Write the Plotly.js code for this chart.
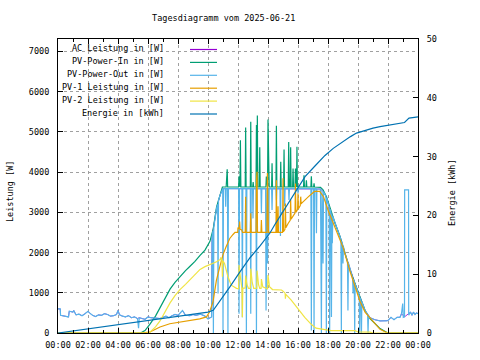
<!DOCTYPE html>
<html><head><meta charset="utf-8">
<script src="https://cdn.plot.ly/plotly-3.0.1.min.js"></script>
<style>html,body{margin:0;padding:0;background:#fff}#c{width:480px;height:360px}</style>
</head><body><div id="c"></div>
<script>
const titleText = "Tagesdiagramm vom 2025-06-21";
const seriesNames = ["AC Leistung in [W]","PV-Power-In in [W]","PV-Power-Out in [W]","PV-1 Leistung in [W]","PV-2 Leistung in [W]","Energie in [kWh]"];
const seriesColors = ["#9400d3","#009e73","#56b4e9","#e69f00","#f0e442","#0072b2"];
const xTickVals = [0,2,4,6,8,10,12,14,16,18,20,22,24];
const xTickText = ["00:00","02:00","04:00","06:00","08:00","10:00","12:00","14:00","16:00","18:00","20:00","22:00","00:00"];

// [hour, W]
const pvIn = [[0,0],[5.5,0],[5.8,60],[6.0,150],[6.13,220],[6.5,420],[6.8,630],[7.1,850],[7.47,1090],[7.8,1260],[8.13,1410],[8.5,1550],[8.8,1660],[9.13,1780],[9.47,1930],[9.8,2060],[10.13,2280],[10.35,2590],[10.57,3130],[10.8,3460],[10.96,3630],
[11.21,3630],[11.24,3950],[11.26,3630],[11.28,4070],[11.31,3630],
[12.04,3630],[12.07,3900],[12.1,3630],[12.13,3630],[12.16,4790],[12.19,3630],
[12.48,3630],[12.51,5110],[12.54,3630],
[12.82,3630],[12.85,5250],[12.88,3630],
[12.98,3630],[13.01,3750],[13.04,3630],
[13.2,3630],[13.23,5170],[13.26,3630],[13.29,5410],[13.32,3630],
[13.42,3630],[13.45,4620],[13.48,3630],
[13.86,3630],[13.89,3890],[13.92,3630],
[13.97,3630],[14.0,5310],[14.03,3630],[14.05,3870],[14.08,3630],
[14.24,3630],[14.27,4220],[14.3,3630],
[14.53,3630],[14.56,5150],[14.59,3630],
[14.82,3630],[14.85,4260],[14.88,3630],
[15.04,3630],[15.07,4560],[15.1,3630],
[15.35,3630],[15.38,4750],[15.41,3630],
[15.48,3630],[15.51,4620],[15.54,3630],
[15.64,3630],[15.67,4090],[15.7,3630],
[15.8,3630],[15.83,4090],[15.86,3630],[15.9,3630],[15.93,4630],[15.96,3630],
[16.37,3630],[16.4,3920],[16.43,3630],
[16.53,3630],[16.56,3800],[16.59,3630],
[16.86,3630],[16.89,3900],[16.92,3630],
[17.04,3630],[17.07,3720],[17.1,3630],
[17.5,3620],[17.67,3560],[17.9,3390],[18.1,3140],[18.3,2930],[18.47,2730],[18.8,2400],[19.13,1980],[19.47,1570],[19.8,1230],[20.13,900],[20.47,560],[20.8,360],[21.13,230],[21.47,110],[21.9,20],[22.0,0],[24,0]];

const pvOut = [[0,600],[0.15,600],[0.17,440],[0.5,420],[0.7,400],[0.75,540],[1.0,520],[1.05,560],[1.2,450],[1.4,470],[1.6,430],[1.8,480],[2.0,540],[2.1,500],[2.3,440],[2.5,410],[2.7,450],[2.9,440],[3.1,480],[3.3,460],[3.5,420],[3.7,430],[3.9,460],[4.0,560],[4.1,450],[4.3,420],[4.5,400],[4.7,430],[4.9,380],[5.1,400],[5.3,360],[5.37,120],[5.42,380],[5.6,360],[5.8,340],[6.0,400],[6.2,380],[6.5,370],[6.8,360],[7.2,420],[7.4,380],[7.6,430],[7.8,460],[8.0,440],[8.2,520],[8.3,560],[8.5,440],[8.8,430],[9.0,460],[9.2,440],[9.5,470],[9.8,420],[10.0,350],[10.2,380],
[10.24,400],[10.27,2400],[10.33,2540],[10.36,0],[10.39,2640],[10.57,3100],[10.64,3200],[10.67,980],[10.7,3300],[10.8,3420],[10.96,3590],
[10.98,3590],[11.0,0],[11.03,3590],
[11.15,3590],[11.18,3140],[11.21,3590],
[11.3,3590],[11.33,0],[11.36,3590],
[12.04,3590],[12.07,480],[12.1,3590],
[12.26,3590],[12.29,390],[12.32,3590],
[12.53,3590],[12.56,0],[12.59,3590],
[12.82,3590],[12.85,480],[12.88,3590],
[12.97,3590],[13.0,2850],[13.03,3590],
[13.2,3590],[13.23,0],[13.26,3590],
[13.53,3590],[13.56,2980],[13.59,3590],
[13.84,3590],[13.87,560],[13.9,3590],
[13.94,3590],[13.97,1730],[14.0,3590],
[14.02,3590],[14.05,2480],[14.08,3590],
[14.24,3590],[14.27,3060],[14.3,3590],
[14.53,3590],[14.56,3300],[14.59,3590],
[14.8,3590],[14.83,2410],[14.86,3590],
[15.08,3590],[15.11,3150],[15.14,3590],
[15.37,3590],[15.4,3310],[15.43,3590],
[15.97,3590],[16.0,3470],[16.03,3590],
[16.86,3590],[16.89,60],[16.92,3590],
[17.04,3590],[17.07,0],[17.1,3590],
[17.2,3590],[17.23,2480],[17.26,3590],
[17.5,3580],[17.56,0],[17.6,3560],[17.67,1730],[17.7,3510],[17.86,3400],[17.89,0],[17.92,3360],
[18.08,3130],[18.11,0],[18.14,3080],[18.2,3000],[18.23,400],[18.26,2950],[18.29,2230],[18.32,2900],
[18.47,2730],[18.8,2400],[18.86,2330],[18.89,0],[18.92,2280],[18.97,2200],[19.0,1730],[19.03,2150],[19.13,1980],[19.3,1780],[19.33,560],[19.36,1740],[19.47,1570],[19.64,1380],[19.67,980],[19.7,1340],[19.75,1280],[19.78,0],[19.81,1220],[20.08,930],[20.11,0],[20.14,880],[20.2,820],[20.23,0],[20.26,780],[20.47,560],[20.64,470],[20.67,0],[20.7,440],[20.8,380],[21.13,330],[21.47,300],[21.9,300],
[22.0,310],[22.2,390],[22.4,330],[22.6,390],[22.8,390],[22.9,480],[22.98,730],[23.02,390],[23.1,400],[23.11,3560],[23.37,3560],[23.38,440],[23.5,520],[23.6,440],[23.7,520],[23.8,460],[23.9,500],[24,480]];

// AC output: lies under the PV-Power-Out / PV-Power-In lines in the picture
const acPower = [[0,600],[0.15,600],[0.17,440],[0.5,420],[0.7,400],[0.75,540],[1.0,520],[1.05,560],[1.2,450],[1.4,470],[1.6,430],[1.8,480],[2.0,540],[2.1,500],[2.3,440],[2.5,410],[2.7,450],[2.9,440],[3.1,480],[3.3,460],[3.5,420],[3.7,430],[3.9,460],[4.0,560],[4.1,450],[4.3,420],[4.5,400],[4.7,430],[4.9,380],[5.1,400],[5.3,360],[5.42,380],[5.6,360],[5.8,340],[6.0,400],[6.2,380],[6.5,370],[6.8,360],[7.2,420],[7.4,380],[7.6,430],[7.8,460],[8.0,440],[8.2,520],[8.3,560],[8.5,440],[8.8,430],[9.0,460],[9.2,440],[9.5,470],[9.8,420],[10.0,350],[10.2,380],[10.24,400],[10.27,2400],[10.33,2540],[10.57,3100],[10.8,3420],[10.96,3590],[17.5,3580],[17.7,3510],[17.86,3400],[18.08,3130],[18.47,2730],[18.8,2400],[19.13,1980],[19.47,1570],[19.8,1230],[20.13,900],[20.47,560],[20.8,380],[21.13,330],[21.47,300],[21.9,300],[22.0,310],[22.2,390],[22.4,330],[22.6,390],[22.8,390],[22.9,480],[23.1,400],[23.5,520],[23.6,440],[23.7,520],[23.8,460],[23.9,500],[24,480]];

const pv1 = [[0,0],[5.5,0],[6.1,20],[6.5,90],[6.8,150],[7.45,230],[8.1,270],[8.8,310],[9.45,350],[9.9,400],[10.1,520],[10.33,770],[10.56,1310],[10.78,1640],[11.0,1950],[11.2,2140],[11.45,2350],[11.67,2450],[11.8,2500],
[11.98,2500],[12.0,2620],[12.08,2600],[12.11,2770],[12.14,2580],[12.25,2560],[12.3,2500],
[12.48,2500],[12.51,3390],[12.54,2500],
[12.82,2500],[12.85,2980],[12.88,2500],
[13.2,2500],[13.23,3800],[13.25,2500],[13.27,4010],[13.3,2500],
[13.53,2500],[13.56,2810],[13.59,2500],
[13.93,2500],[13.96,3980],[13.98,2500],[14.0,3060],[14.03,2500],
[14.53,2500],[14.56,3800],[14.59,2500],[14.64,2500],[14.67,3150],[14.7,2500],
[14.97,2500],[15.0,3850],[15.03,2520],
[15.13,2580],[15.16,3220],[15.19,2620],
[15.35,2730],[15.48,2800],[15.51,3310],[15.54,2830],
[15.8,2980],[15.83,3720],[15.86,3000],[15.97,3070],[16.0,3470],[16.03,3090],
[16.15,3170],[16.18,3390],[16.21,3210],
[16.25,3230],[16.7,3390],[17.1,3520],[17.45,3520],[17.7,3390],[18.0,3060],[18.35,2730],[18.8,2320],[19.02,2110],[19.47,1530],[19.8,1180],[20.13,790],[20.47,520],[20.8,380],[21.13,230],[21.47,90],[21.8,30],[22.0,0],[24,0]];

const pv2 = [[0,0],[5.9,0],[6.13,20],[6.5,150],[6.8,300],[7.1,520],[7.47,750],[7.8,930],[8.13,1080],[8.5,1210],[8.8,1330],[9.13,1450],[9.47,1580],[9.8,1650],[10.13,1700],[10.57,1770],[10.82,1830],[10.85,1880],[10.88,1820],[10.93,1830],[10.96,1400],[10.99,1800],[11.1,1730],[11.33,1400],[11.55,1190],[11.9,1110],
[12.04,1100],[12.07,1690],[12.12,1500],[12.2,1200],[12.26,1110],[12.29,390],[12.32,1110],
[12.48,1120],[12.51,1430],[12.6,1200],[12.7,1110],
[12.82,1110],[12.85,1600],[12.95,1250],[13.05,1110],
[13.25,1110],[13.27,1550],[13.37,1200],[13.45,1110],
[13.54,1110],[13.56,1340],[13.65,1150],
[13.97,1100],[14.0,1440],[14.1,1150],[14.3,1080],[14.6,1080],[14.9,1070],[15.0,1040],[15.1,990],[15.14,990],[15.16,850],[15.19,960],
[15.55,820],[16.0,600],[16.45,390],[16.9,210],[17.2,120],[17.7,90],[18.2,60],[19.8,60],[20.0,25],[20.8,20],[21.0,0],[24,0]];

// [hour, kWh]
const energy = [[0,0],[1,0.35],[2,0.7],[3,1.05],[4,1.4],[5,1.75],[6,2.1],[7,2.45],[8,2.85],[9,3.2],[10,3.55],[10.35,3.85],[10.8,5.4],[11.47,7.9],[12.13,10.4],[12.8,12.8],[13.47,14.8],[14.13,17.0],[14.47,18.5],[15.13,21.2],[15.8,24.0],[16.47,26.6],[17.13,28.4],[17.8,30.2],[18.35,31.4],[19.0,32.6],[19.5,33.4],[19.9,34.0],[20.5,34.5],[21.0,34.85],[21.47,35.1],[22.0,35.3],[22.8,35.65],[23.1,35.8],[23.4,36.55],[24,36.75]];

const FONT = "DejaVu Sans Mono";
const FS = 8.5;
const L = 58, R = 418, T = 39, B = 333;
const px = x => (x - L) / (R - L);
const py = y => (B - y) / (B - T);

const dataSets = [acPower, pvIn, pvOut, pv1, pv2, energy];
const traces = dataSets.map((d, i) => ({
  type: "scatter", mode: "lines",
  x: d.map(p => p[0]), y: d.map(p => p[1]),
  yaxis: i === 5 ? "y2" : "y",
  line: {color: seriesColors[i], width: i === 0 ? 0.8 : 1.2},
  name: seriesNames[i], hoverinfo: "skip"
}));

const annotations = [
  {text: "Leistung [W]", xref: "paper", yref: "paper", x: px(10), y: py(192), textangle: -90, showarrow: false, xanchor: "center", yanchor: "middle", font: {family: FONT, size: FS, color: "#000"}},
  {text: "Energie [kWh]", xref: "paper", yref: "paper", x: px(452), y: py(193), textangle: -90, showarrow: false, xanchor: "center", yanchor: "middle", font: {family: FONT, size: FS, color: "#000"}}
];
const shapes = [];
seriesNames.forEach((n, i) => {
  const ly = 49.5 + 12.9 * i;
  annotations.push({text: n, xref: "paper", yref: "paper", x: px(166), y: py(ly - 1.5), showarrow: false, xanchor: "right", yanchor: "middle", font: {family: FONT, size: FS, color: "#000"}});
  shapes.push({type: "line", xref: "paper", yref: "paper", x0: px(190), x1: px(217), y0: py(ly), y1: py(ly), line: {color: seriesColors[i], width: 1.2}});
});

const axisCommon = {showline: true, linecolor: "#000", linewidth: 1, ticks: "inside", ticklen: 5, tickcolor: "#000", zeroline: false,
  tickfont: {family: FONT, size: FS, color: "#000"}};

const layout = {
  width: 480, height: 360,
  margin: {l: L, r: 480 - R, t: T, b: 360 - B, pad: 0},
  paper_bgcolor: "#fff", plot_bgcolor: "#fff",
  showlegend: false,
  font: {family: FONT, size: FS, color: "#000"},
  title: {text: titleText, font: {family: FONT, size: FS, color: "#000"}, xref: "container", yref: "container", x: 223.7/480, xanchor: "center", y: 1 - 18/360, yanchor: "middle"},
  xaxis: Object.assign({}, axisCommon, {range: [0, 24], tickmode: "array", tickvals: xTickVals, ticktext: xTickText, mirror: "ticks",
    showgrid: true, gridcolor: "#a0a0a0", griddash: "3px,3px", gridwidth: 1, ticklabelstandoff: 4,
    minor: {dtick: 1, tick0: 0, ticks: "inside", ticklen: 3, tickcolor: "#000", showgrid: false}}),
  yaxis: Object.assign({}, axisCommon, {range: [0, 7310], tick0: 0, dtick: 1000, showgrid: true, gridcolor: "#a0a0a0", griddash: "3px,3px", gridwidth: 1, ticklabelstandoff: 6}),
  yaxis2: Object.assign({}, axisCommon, {range: [0, 50], tick0: 0, dtick: 10, overlaying: "y", side: "right", showgrid: false, ticklabelstandoff: 6}),
  annotations: annotations,
  shapes: shapes
};

Plotly.newPlot("c", traces, layout, {staticPlot: true, displayModeBar: false});
</script>
</body></html>
